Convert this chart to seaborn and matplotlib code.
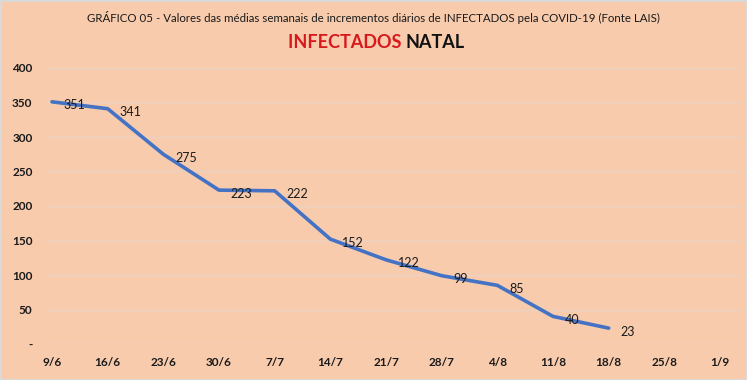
import numpy as np
import pandas as pd
import matplotlib
matplotlib.use("Agg")
import matplotlib.pyplot as plt
import seaborn as sns

# dados (médias semanais)
datas = ["9/6", "16/6", "23/6", "30/6", "7/7", "14/7", "21/7", "28/7",
         "4/8", "11/8", "18/8", "25/8", "1/9"]
infectados = [351, 341, 275, 223, 222, 152, 122, 99, 85, 40, 23]
yticks = [0, 50, 100, 150, 200, 250, 300, 350, 400]
ytick_labels = ["-", "50", "100", "150", "200", "250", "300", "350", "400"]

df = pd.DataFrame({"x": np.arange(len(infectados)), "valor": infectados})

sns.set_theme(style="white")
plt.rcParams["font.family"] = ["Lato", "DejaVu Sans"]

bg = "#F8CBAD"
fig = plt.figure(figsize=(7.47, 3.8), dpi=100, facecolor=bg,
                 edgecolor="#D9D9D9", linewidth=2)
ax = fig.add_axes([45 / 747, 1 - 344 / 380, 695 / 747, 276 / 380])
ax.set_facecolor(bg)

sns.lineplot(data=df, x="x", y="valor", ax=ax, color="#4472C4", linewidth=2.6)

for xi, v in zip(df["x"], df["valor"]):
    ax.annotate(str(v), (xi, v), xytext=(8.5, -2.5), textcoords="offset points",
                ha="left", va="center", fontsize=9, color="#1a1a1a")

ax.set_xlim(-7 / 55.7, 12 + 20 / 55.7)
ax.set_ylim(0, 400)
ax.set_xticks(range(len(datas)))
ax.set_xticklabels(datas, fontsize=8.5, fontweight="bold", color="#1a1a1a")
ax.set_yticks(yticks)
ax.set_yticklabels(ytick_labels, fontsize=8.5, fontweight="bold", color="#1a1a1a")
ax.tick_params(axis="x", length=0, pad=9)
ax.tick_params(axis="y", length=0, pad=9)
ax.grid(axis="y", color="#EBD3C2", linewidth=1)
ax.set_xlabel("")
ax.set_ylabel("")
for s in ax.spines.values():
    s.set_visible(False)

fig.text(0.5, 1 - 18 / 380,
         "GRÁFICO 05 - Valores das médias semanais de incrementos diários de INFECTADOS pela COVID-19 (Fonte LAIS)",
         ha="center", va="center", fontsize=8.3, color="#1a1a1a")
t1 = fig.text(0.385, 1 - 42 / 380, "INFECTADOS ", ha="left", va="center",
              fontsize=13, fontweight="bold", color="#D7191C")
fig.canvas.draw()
bb = t1.get_window_extent()
fig.text(bb.x1 / fig.bbox.width, 1 - 42 / 380, "NATAL", ha="left", va="center",
         fontsize=13, fontweight="bold", color="#111111")

fig.savefig("out.png", dpi=100, facecolor=bg, edgecolor="#D9D9D9")
